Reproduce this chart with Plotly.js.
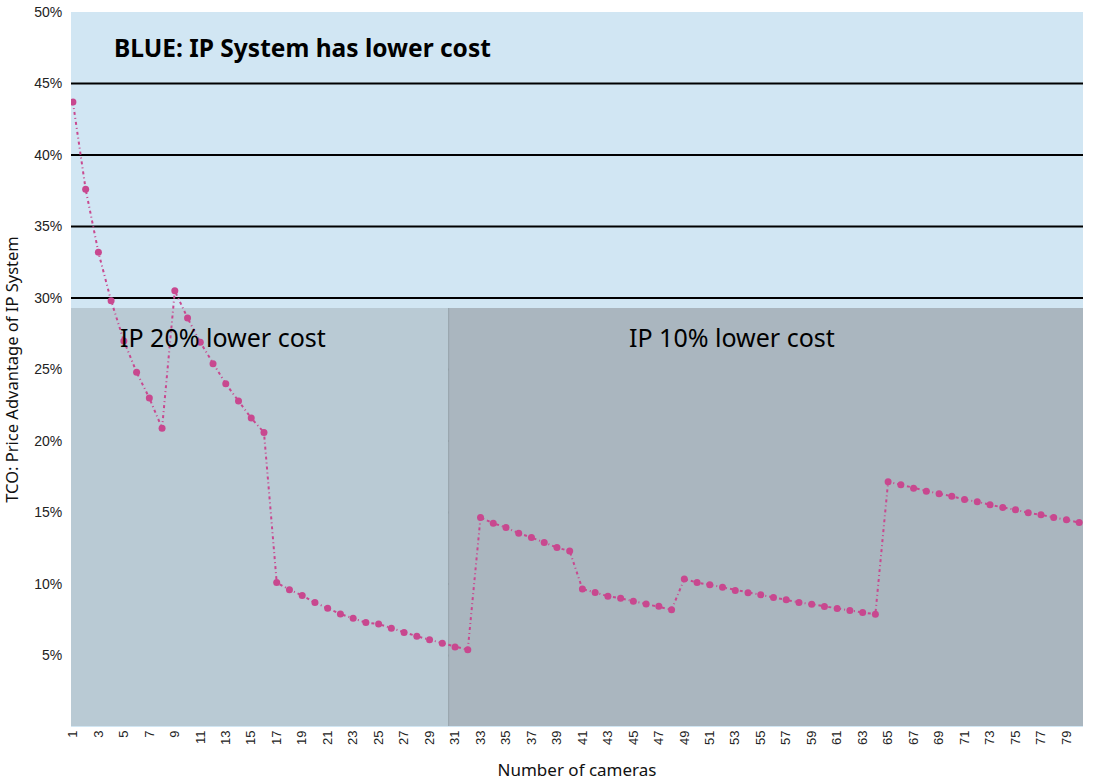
<!DOCTYPE html>
<html>
<head>
<meta charset="utf-8">
<script src="https://cdn.plot.ly/plotly-3.0.1.min.js"></script>
<style>
  html, body { margin: 0; padding: 0; background: #ffffff; }
  #chart { width: 1094px; height: 782px; }
</style>
</head>
<body>
<div id="chart"></div>
<script>
// ---- Data ----
const cameras = [1,2,3,4,5,6,7,8,9,10,11,12,13,14,15,16,17,18,19,20,
                 21,22,23,24,25,26,27,28,29,30,31,32,33,34,35,36,37,38,39,40,
                 41,42,43,44,45,46,47,48,49,50,51,52,53,54,55,56,57,58,59,60,
                 61,62,63,64,65,66,67,68,69,70,71,72,73,74,75,76,77,78,79,80];
const priceAdvantage = [43.7,37.6,33.2,29.8,27.0,24.8,23.0,20.9,30.5,28.6,
                        26.9,25.4,24.0,22.8,21.6,20.6,10.1,9.6,9.2,8.7,
                        8.3,7.9,7.6,7.3,7.2,6.9,6.6,6.35,6.1,5.85,
                        5.6,5.4,14.65,14.25,13.95,13.55,13.25,12.9,12.55,12.3,
                        9.65,9.4,9.15,9.0,8.8,8.6,8.45,8.2,10.35,10.1,
                        9.95,9.77,9.55,9.38,9.24,9.06,8.89,8.71,8.59,8.43,
                        8.29,8.15,8.01,7.89,17.15,16.94,16.7,16.49,16.31,16.14,
                        15.91,15.75,15.54,15.35,15.19,14.98,14.84,14.65,14.49,14.3];
const xTickVals = [1,3,5,7,9,11,13,15,17,19,21,23,25,27,29,31,33,35,37,39,
                   41,43,45,47,49,51,53,55,57,59,61,63,65,67,69,71,73,75,77,79];
const yTickVals = [5,10,15,20,25,30,35,40,45,50];
const gridVals = [5,10,15,20,25,30,35,40,45];
const regionLabels = ["BLUE: IP System has lower cost", "IP 20% lower cost", "IP 10% lower cost"];
const grayTop = 29.3;      // top of the grey zones (%)
const zoneSplit = 30.5;    // boundary between the two grey zones (cameras)

// ---- Shapes ----
const shapes = [
  { type: 'rect', xref: 'paper', yref: 'y', x0: 0, x1: 1, y0: 0, y1: 50,
    fillcolor: '#d1e6f3', line: { width: 0 }, layer: 'below' },
  { type: 'rect', xref: 'x', yref: 'y', x0: 0, x1: zoneSplit, y0: 0.07, y1: grayTop,
    fillcolor: '#b9cad4', line: { width: 0 }, layer: 'below' },
  { type: 'rect', xref: 'x', yref: 'y', x0: zoneSplit, x1: 90, y0: 0.07, y1: grayTop,
    fillcolor: '#aab6bf', line: { width: 0 }, layer: 'below' },
  { type: 'line', xref: 'x', yref: 'y', x0: zoneSplit, x1: zoneSplit, y0: 0.07, y1: grayTop,
    line: { color: '#95a1a9', width: 1 }, layer: 'below' }
];
gridVals.forEach(v => shapes.push({
  type: 'line', xref: 'paper', yref: 'y', x0: 0, x1: 1, y0: v, y1: v,
  line: { color: '#000000', width: 2 }, layer: 'below'
}));

const trace = {
  x: cameras, y: priceAdvantage, type: 'scatter', mode: 'lines+markers',
  line: { color: '#c8488f', width: 2, dash: '3px,3px,1px,3px' },
  marker: { color: '#c8488f', size: 7 },
  hoverinfo: 'x+y'
};

const layout = {
  width: 1094, height: 782,
  margin: { l: 71, r: 11, t: 12, b: 55 },
  paper_bgcolor: '#ffffff',
  plot_bgcolor: '#d1e6f3',
  showlegend: false,
  font: { family: 'Liberation Sans, Arial, sans-serif', color: '#222222', size: 13 },
  xaxis: {
    range: [0.85, 80.3],
    tickmode: 'array', tickvals: xTickVals, ticktext: xTickVals.map(String),
    tickangle: -90, showgrid: false, zeroline: false, showline: false,
    ticks: '', ticklen: 0,
    tickfont: { family: 'Liberation Sans, Arial, sans-serif', size: 13, color: '#222' },
    title: { text: 'Number of cameras', standoff: 20,
             font: { family: 'Noto Sans, sans-serif', size: 17, color: '#111' } }
  },
  yaxis: {
    range: [0, 50],
    tickmode: 'array', tickvals: yTickVals, ticktext: yTickVals.map(v => v + '%'),
    showgrid: false, zeroline: false, showline: false, ticks: 'outside', ticklen: 5, tickcolor: 'rgba(0,0,0,0)',
    tickfont: { family: 'Liberation Sans, Arial, sans-serif', size: 14, color: '#222' },
    title: { text: 'TCO: Price Advantage of IP System', standoff: 12,
             font: { family: 'Noto Sans, sans-serif', size: 16.5, color: '#111' } }
  },
  shapes: shapes,
  annotations: [
    { text: '<b>' + regionLabels[0] + '</b>', xref: 'paper', yref: 'y', x: 0.0405, y: 47.5,
      xanchor: 'left', yanchor: 'middle', showarrow: false,
      font: { family: 'Noto Sans, sans-serif', size: 24.5, color: '#000' } },
    { text: regionLabels[1], xref: 'paper', yref: 'y', x: 0.1506, y: 27.24,
      xanchor: 'center', yanchor: 'middle', showarrow: false,
      font: { family: 'Noto Sans, sans-serif', size: 25, color: '#000' } },
    { text: regionLabels[2], xref: 'paper', yref: 'y', x: 0.6527, y: 27.24,
      xanchor: 'center', yanchor: 'middle', showarrow: false,
      font: { family: 'Noto Sans, sans-serif', size: 25, color: '#000' } }
  ]
};

Plotly.newPlot('chart', [trace], layout, { displayModeBar: false, staticPlot: true });
</script>
</body>
</html>
